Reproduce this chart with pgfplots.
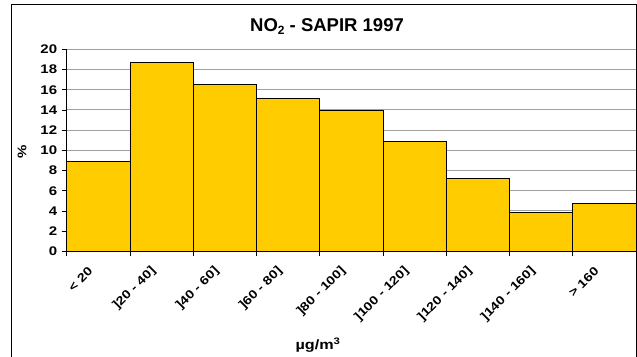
\documentclass[border=0pt]{standalone}
\usepackage{fontspec}
\setmainfont{Liberation Sans}
\newfontfamily\tickfont[FakeStretch=1.2]{Liberation Sans}
\usepackage{pgfplots}
\pgfplotsset{compat=1.18}
\definecolor{baryellow}{HTML}{FFCC00}
\definecolor{gridgray}{HTML}{A0A0A0}
\begin{document}
\begin{tikzpicture}
\useasboundingbox (-66.7pt,-104.7pt) rectangle (570.3pt,251.3pt);
\draw[line width=1pt] (-55pt,-110pt) -- (-55pt,246.3pt) -- (569.6pt,246.3pt) -- (569.6pt,-110pt);
\begin{axis}[
  at={(0pt,0pt)}, anchor=south west,
  scale only axis, width=569.3pt, height=202pt,
  xmin=-0.5, xmax=8.5, ymin=0, ymax=20,
  axis x line=bottom, axis y line=left,
  axis line style={line width=1pt,-},
  ytick={0,2,...,20},
  ymajorgrids, grid style={gridgray, line width=0.9pt},
  tick align=outside,
  major tick length=5pt,
  tick style={line width=0.8pt, black},
  xtick={-0.5,0.5,...,7.5},
  xticklabels={},
  extra x ticks={0,...,8},
  extra x tick labels={{< 20},{]20 - 40]},{]40 - 60]},{]60 - 80]},{]80 - 100]},{]100 - 120]},{]120 - 140]},{]140 - 160]},{> 160}},
  extra x tick style={major tick length=0pt, grid=none,
    xticklabel style={font=\fontsize{12}{13}\selectfont\bfseries\tickfont, inner sep=1pt, xshift=-7pt, yshift=-17pt, rotate=45, anchor=east}},
  /pgf/number format/assume math mode=true,
  yticklabel style={font=\fontsize{12.5}{14}\selectfont\bfseries\tickfont, anchor=east, xshift=-1pt},
  ybar, bar width=63.26pt, bar shift=0pt,
  clip=false,
]
\addplot[fill=baryellow, draw=black, line width=0.9pt] coordinates {
  (0,8.9) (1,18.7) (2,16.5) (3,15.1) (4,13.9) (5,10.9) (6,7.2) (7,3.8) (8,4.7)
};
\end{axis}
\node[anchor=base, font=\fontsize{18.5}{20}\selectfont\bfseries] at (260.3pt,219.3pt) {NO\raisebox{-0.3ex}{\fontsize{12}{12}\selectfont 2} - SAPIR 1997};
\node[rotate=90, font=\fontsize{12.5}{14}\selectfont\bfseries\tickfont] at (-44.7pt,99.6pt) {\%};
\node[anchor=base, font=\fontsize{13.5}{14}\selectfont\bfseries\tickfont] at (251.3pt,-98.5pt) {µg/m\textsuperscript{3}};
\end{tikzpicture}
\end{document}
